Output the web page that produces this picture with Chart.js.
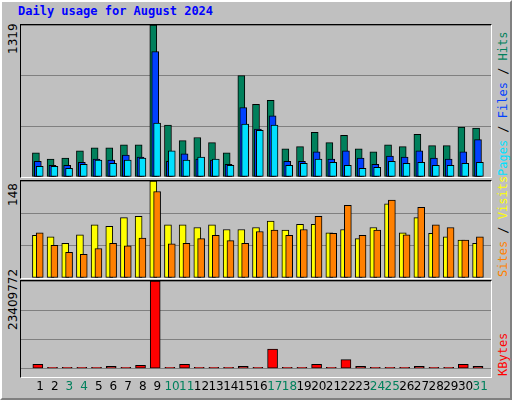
<!DOCTYPE html>
<html><head><meta charset="utf-8">
<script src="https://cdn.jsdelivr.net/npm/chart.js@4"></script>
<style>
body{margin:0;background:#c0c0c0;}
#frame{position:absolute;left:0;top:0;width:508px;height:396px;background:#c0c0c0;border:2px solid;border-color:#fff #808080 #808080 #fff;}
#title{position:absolute;left:18px;top:4px;font:bold 12px "DejaVu Sans Mono",monospace;color:#0000ff;}
.box{position:absolute;left:20px;width:470px;border:1px solid;border-color:#000 #fff #fff #000;background:#c0c0c0;}
canvas{position:absolute;}
.lab{position:absolute;font:12px "DejaVu Sans Mono",monospace;white-space:nowrap;transform-origin:0 0;transform:rotate(-90deg);}
.num{font-family:"DejaVu Sans",sans-serif;color:#000;}
</style></head><body>
<div id="frame"></div>
<div id="title">Daily usage for August 2024</div>
<div class="box" style="top:24px;height:152px"></div>
<div class="box" style="top:180px;height:97px"></div>
<div class="box" style="top:280px;height:96px"></div>
<canvas id="c1" width="470" height="152" style="left:21px;top:25px"></canvas>
<canvas id="c2" width="470" height="97" style="left:21px;top:181px"></canvas>
<canvas id="c3" width="470" height="116" style="left:21px;top:281px"></canvas>
<div class="lab num" style="left:6px;top:54px">1319</div>
<div class="lab num" style="left:6px;top:206px">148</div>
<div class="lab num" style="left:6px;top:330px">23409772</div>
<div class="lab" style="left:496px;top:176px"><span style="color:#00e0ff">Pages</span> / <span style="color:#0040ff">Files</span> / <span style="color:#00805c">Hits</span></div>
<div class="lab" style="left:496px;top:277px"><span style="color:#ff8000">Sites</span> / <span style="color:#ffff00">Visits</span></div>
<div class="lab" style="left:496px;top:376px"><span style="color:#ff0000">KBytes</span></div>
<script>
const days = Array.from({length: 31}, (_, i) => i + 1);
const weekend = [3, 4, 10, 11, 17, 18, 24, 25, 31];
const hits = [209,155,164,227,254,254,280,280,1319,451,316,343,298,209,880,630,665,245,263,388,298,361,245,218,280,263,370,272,272,433,424];
const files = [137,101,101,128,155,146,191,173,1089,137,200,155,146,110,603,415,531,137,137,218,155,227,164,110,182,173,227,164,155,218,325];
const pages = [93,93,75,110,146,119,146,164,468,227,146,173,155,101,460,406,451,101,119,155,128,101,75,84,137,119,128,101,101,119,128];
const visits = [65,63,53,66,81,79,92,94,148,81,81,77,81,74,74,77,87,73,82,82,69,74,60,77,113,69,92,68,63,58,53];
const sites = [69,50,39,36,45,53,49,61,132,52,53,60,65,57,53,71,73,65,74,94,68,111,65,73,119,66,108,81,77,58,63];
const kbytes = [1110000,340000,340000,340000,340000,600000,340000,850000,23409772,340000,1110000,340000,340000,340000,600000,340000,5210000,340000,340000,1110000,340000,2390000,600000,340000,340000,340000,600000,340000,340000,1110000,600000];

function xAxis(shift, show) {
  return {
    type: 'linear', min: 0.5 - shift, max: 31.5 - shift, display: show,
    grid: {display: false}, border: {display: false},
    afterBuildTicks: axis => { axis.ticks = days.map(d => ({value: d})); },
    ticks: {autoSkip: false, maxRotation: 0, padding: 3,
      font: {family: 'DejaVu Sans', size: 12},
      color: c => weekend.includes(c.tick.value) ? '#00805c' : '#000',
      callback: v => v}
  };
}
function yAxis(max) {
  return {min: 0, max: max, display: true,
    ticks: {display: false, stepSize: max / 3},
    grid: {color: '#808080', lineWidth: 1, drawTicks: false}, border: {display: false}};
}
function bar(data, color, axis, w, order) {
  return {data: data, backgroundColor: color, borderColor: '#000', borderWidth: 1,
    borderSkipped: false, barThickness: w, xAxisID: axis, grouped: false, order: order};
}
function make(id, datasets, scales) {
  new Chart(document.getElementById(id), {
    type: 'bar',
    data: {labels: days, datasets: datasets},
    options: {responsive: false, animation: false, layout: {padding: 0},
      plugins: {legend: {display: false}, tooltip: {enabled: false}},
      scales: scales}
  });
}
const toXY = arr => arr.map((v, i) => ({x: days[i], y: v}));

make('c1', [
  bar(toXY(hits), '#00805c', 'xh', 7, 3),
  bar(toXY(files), '#0040ff', 'xf', 7, 2),
  bar(toXY(pages), '#00e0ff', 'xp', 7, 1)
], {xh: xAxis(0, false), xf: xAxis(0.13, false), xp: xAxis(0.26, false), y: yAxis(1319)});

make('c2', [
  bar(toXY(visits), '#ffff00', 'xv', 7, 2),
  bar(toXY(sites), '#ff8000', 'xs', 7, 1)
], {xv: xAxis(0, false), xs: xAxis(0.26, false), y: yAxis(148)});

make('c3', [
  bar(toXY(kbytes), '#ff0000', 'xk', 10, 1)
], {x: xAxis(0.28, true), xk: xAxis(0.13, false), y: yAxis(23409772)});
</script>
</body></html>
